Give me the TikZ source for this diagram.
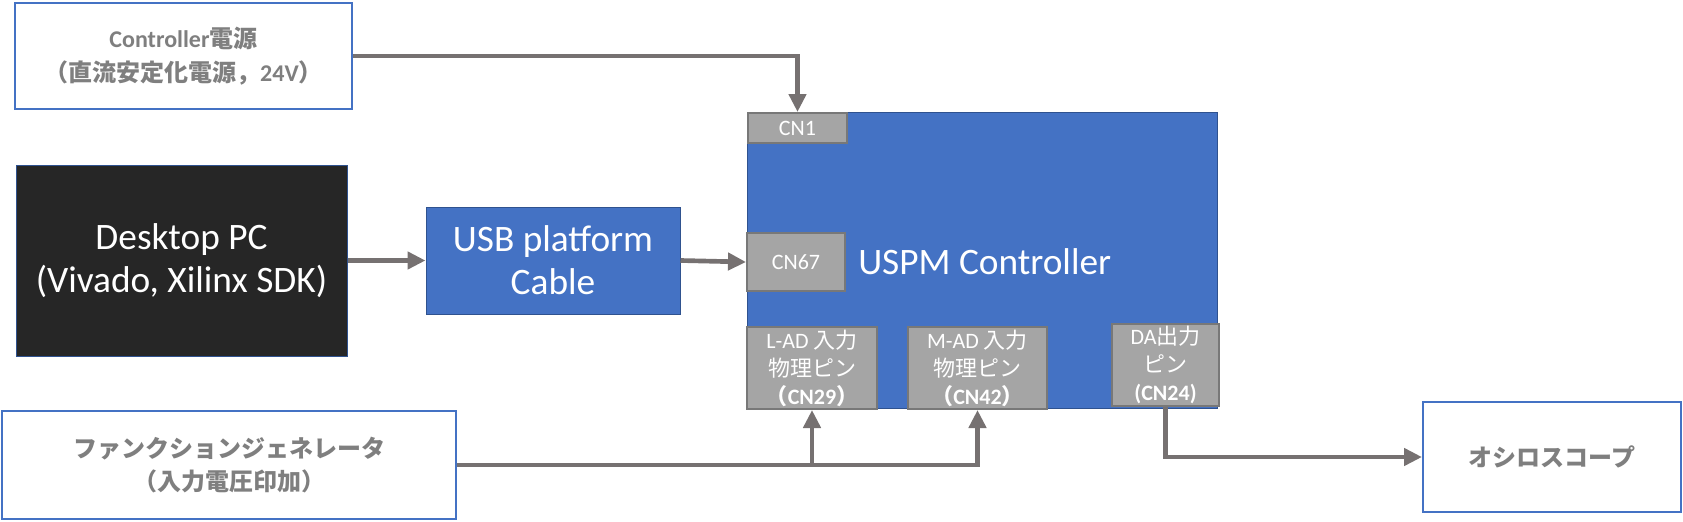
\documentclass[tikz,border=0pt]{standalone}
\usepackage{fontspec}
\setmainfont{Carlito}
\newfontfamily\jp{Noto Sans CJK JP}
\usetikzlibrary{arrows.meta}
\definecolor{boxblue}{HTML}{4472C4}
\definecolor{edgeblue}{HTML}{2F528F}
\definecolor{pcblack}{HTML}{262626}
\definecolor{pingray}{HTML}{A5A5A5}
\definecolor{pinedge}{HTML}{787878}
\definecolor{wiregray}{HTML}{767171}
\definecolor{labelgray}{HTML}{7F7F7F}
\newcommand{\jtext}[1]{{\jp #1}}
\tikzset{>={Triangle[length=13.5pt,width=12.75pt]},
  whitebox/.style={draw=boxblue,line width=1.5pt,fill=white,text=labelgray,align=center,inner sep=0pt,
    font=\bfseries\fontsize{18}{25}\selectfont},
  bluebox/.style={draw=edgeblue,line width=0.75pt,fill=boxblue,text=white,align=center,inner sep=0pt,
    font=\fontsize{28}{32.5}\selectfont},
  pcbox/.style={bluebox,fill=pcblack},
  pinbox/.style={draw=pinedge,line width=1.5pt,fill=pingray,text=white,align=center,inner sep=0pt,
    font=\fontsize{16.5}{21}\selectfont},
  wire/.style={draw=wiregray,line width=3.5pt}
}
\begin{document}
\begin{tikzpicture}[x=0.75pt,y=-0.75pt]
  \useasboundingbox (0,0) rectangle (1683,521);

  \node[whitebox,minimum width=252.75pt,minimum height=79.5pt] (pwr) at (183.5,56)
    {Controller\jtext{電源}\\\jtext{（直流安定化電源，}24V\jtext{）}};
  \node[pcbox,minimum width=248.25pt,minimum height=143.25pt] (pc) at (181.5,260.5)
    {Desktop PC\\(Vivado, Xilinx SDK)};
  \node[bluebox,minimum width=190.5pt,minimum height=80.25pt] (usb) at (553,260.5)
    {USB platform\\Cable};
  \node[whitebox,minimum width=340.5pt,minimum height=81pt] (fg) at (229,465)
    {\jtext{ファンクションジェネレータ}\\\jtext{（入力電圧印加）}};
  \node[whitebox,minimum width=193.5pt,minimum height=82.5pt] (osc) at (1552,457)
    {\jtext{オシロスコープ}};

  %% controller board and its pins
  \node[bluebox,minimum width=352.5pt,minimum height=222pt] (ctrl) at (982,260) {};
  \node[pinbox,minimum width=74.25pt,minimum height=22.5pt] (cn1) at (797.5,128) {CN1};
  \node[pinbox,minimum width=73.5pt,minimum height=43.5pt] (cn67) at (796,262) {CN67};
  \node[pinbox,minimum width=97.5pt,minimum height=61.5pt] (cnl) at (812,368)
    {L-AD \jtext{入力}\\\jtext{物理ピン}\\{\bfseries\jtext{（}CN29\jtext{）}}};
  \node[pinbox,minimum width=104.25pt,minimum height=61.5pt] (cnm) at (977.5,368)
    {M-AD \jtext{入力}\\\jtext{物理ピン}\\{\bfseries\jtext{（}CN42\jtext{）}}};
  \node[pinbox,minimum width=80.25pt,minimum height=61.5pt] (cnda) at (1165.5,365)
    {DA\jtext{出力}\\\jtext{ピン}\\{\bfseries (CN24)}};
  \node[text=white,inner sep=0pt,anchor=west,font=\fontsize{28}{34}\selectfont] (ctrllabel)
    at ([xshift=9pt]cn67.east) {USPM Controller};

  \draw[wire,->] (pwr.east) -| (cn1.north);
  \draw[wire,->] (pc.east) -- (usb.west);
  \draw[wire,->] (usb.east) -- (cn67.west);
  \coordinate (split) at (cnl.south |- fg.east);
  \draw[wire,->] (fg.east) -| (cnm.south);
  \draw[wire,->] (split) -- (cnl.south);
  \draw[wire,->] (cnda.south) |- (osc.west);

\end{tikzpicture}
\end{document}
